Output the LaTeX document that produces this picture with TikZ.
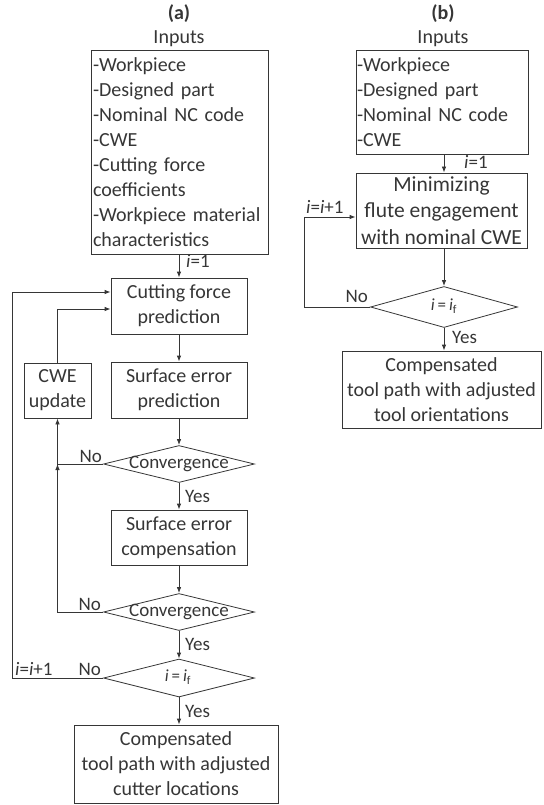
\documentclass[tikz,border=0pt]{standalone}
\usepackage{fontspec}
\setmainfont{Carlito}
\usetikzlibrary{shapes.geometric,arrows.meta}
\definecolor{ink}{HTML}{363636}
\begin{document}
\begin{tikzpicture}[x=1pt,y=-1pt,
  every node/.style={text=ink},
  box/.style={draw=ink, line width=0.8pt, inner sep=0pt, align=center, font=\fontsize{20}{25}\selectfont},
  dia/.style={draw=ink, line width=0.8pt, diamond, inner sep=0pt},
  dtext/.style={inner sep=0pt, font=\fontsize{19}{23}\selectfont},
  dsmall/.style={inner sep=0pt, font=\fontsize{17}{20}\selectfont},
  lbl/.style={font=\fontsize{19}{23}\selectfont, inner sep=0pt},
  ttl/.style={font=\fontsize{20}{24}\selectfont, inner sep=0pt},
  arr/.style={draw=ink, line width=0.8pt, -{Latex[length=6pt,width=4.5pt]}},
]
\useasboundingbox (0,0) rectangle (543,805);

% ---------------- panel (a) ----------------
\node[ttl, anchor=base] (ta) at (179,20) {\textbf{(a)}};
\node[ttl, anchor=base] (ia) at (179,44) {Inputs};
\node[box, align=left, text width=173pt, inner xsep=2pt, minimum height=204pt] (inA) at (179.5,152)
  {-Workpiece\\-Designed part\\-Nominal NC code\\-CWE\\-Cutting force\\coefficients\\-Workpiece material\\characteristics};
\node[box, minimum width=136pt, minimum height=56pt] (cf) at (179,306) {Cutting force\\prediction};
\node[box, minimum width=136pt, minimum height=56pt] (sep) at (179,390) {Surface error\\prediction};
\node[box, minimum width=67pt, minimum height=55pt] (cwe) at (57.5,390.5) {CWE\\update};
\node[dia, minimum width=151pt, minimum height=37pt] (d1) at (179,464) {};
\node[dtext] (d1t) at (d1) {Convergence};
\node[box, minimum width=136pt, minimum height=55pt] (sec) at (179,537.5) {Surface error\\compensation};
\node[dia, minimum width=151pt, minimum height=37pt] (d2) at (179,612) {};
\node[dtext] (d2t) at (d2) {Convergence};
\node[dia, minimum width=151pt, minimum height=38pt] (d3) at (179,678) {};
\node[dsmall] (d3t) at (178,677) {\textit{i}\,=\,\textit{i}\textsubscript{f}};
\node[box, minimum width=204pt, minimum height=78pt] (fin) at (176,764) {Compensated\\tool path with adjusted\\cutter locations};

\coordinate (j1) at (cwe.south |- d1.west);
\coordinate (lp) at (12,678);

\draw[arr] (inA.south -| cf.north) -- (cf.north);
\node[lbl, anchor=base west] (l1) at (186,267) {\textit{i}=1};
\draw[arr] (cf) -- (sep);
\draw[arr] (sep) -- (d1);
\draw[arr] (d1.west) -| (cwe.south);
\node[lbl, anchor=base east] (n1) at (102,462) {No};
\draw[arr] (cwe.north) |- ([yshift=-3pt]cf.west);
\draw[arr] (d1) -- (sec);
\node[lbl, anchor=base west] (y1) at (185,502) {Yes};
\draw[arr] (sec) -- (d2);
\draw[arr] (d2.west) -| (j1);
\node[lbl, anchor=base east] (n2) at (101,610) {No};
\draw[arr] (d2) -- (d3);
\node[lbl, anchor=base west] (y2) at (185,650) {Yes};
\draw[arr] (d3.west) -- (lp) |- ([yshift=14pt]cf.west);
\node[lbl, anchor=base east] (n3) at (101,675) {No};
\node[lbl, anchor=base west] (r3) at (15,675) {\textit{i}=\textit{i}+1};
\draw[arr] (d3.south) -- (d3.south |- fin.north);
\node[lbl, anchor=base west] (y3) at (185,717) {Yes};

% ---------------- panel (b) ----------------
\node[ttl, anchor=base] (tb) at (443,20) {\textbf{(b)}};
\node[ttl, anchor=base] (ib) at (443,44) {Inputs};
\node[box, align=left, text width=170pt, inner xsep=1pt, minimum height=104pt] (inB) at (442,102)
  {-Workpiece\\-Designed part\\-Nominal NC code\\-CWE};
\node[box, minimum width=171pt, minimum height=75pt, font=\fontsize{21.5}{26.5}\selectfont] (mn) at (441.5,210.5)
  {Minimizing\\flute engagement\\with nominal CWE};
\node[dia, minimum width=147pt, minimum height=41pt] (d4) at (444,307) {};
\node[dsmall] (d4t) at (444,306) {\textit{i}\,=\,\textit{i}\textsubscript{f}};
\node[box, minimum width=199pt, minimum height=77pt] (fb) at (441.5,389.5)
  {Compensated\\tool path with adjusted\\tool orientations};

\coordinate (lpb) at (304,307);
\draw[arr] (inB.south -| d4.north) -- (mn.north -| d4.north);
\node[lbl, anchor=base west] (l2) at (464,168) {\textit{i}=1};
\draw[arr] (mn.south -| d4.north) -- (d4.north);
\draw[arr] (d4.west) -- (lpb) |- ([yshift=-6.5pt]mn.west);
\node[lbl, anchor=base east] (n4) at (368,302) {No};
\node[lbl, anchor=base west] (r4) at (306,213) {\textit{i}=\textit{i}+1};
\draw[arr] (d4.south) -- (d4.south |- fb.north);
\node[lbl, anchor=base west] (y4) at (452,343) {Yes};
\end{tikzpicture}
\end{document}
